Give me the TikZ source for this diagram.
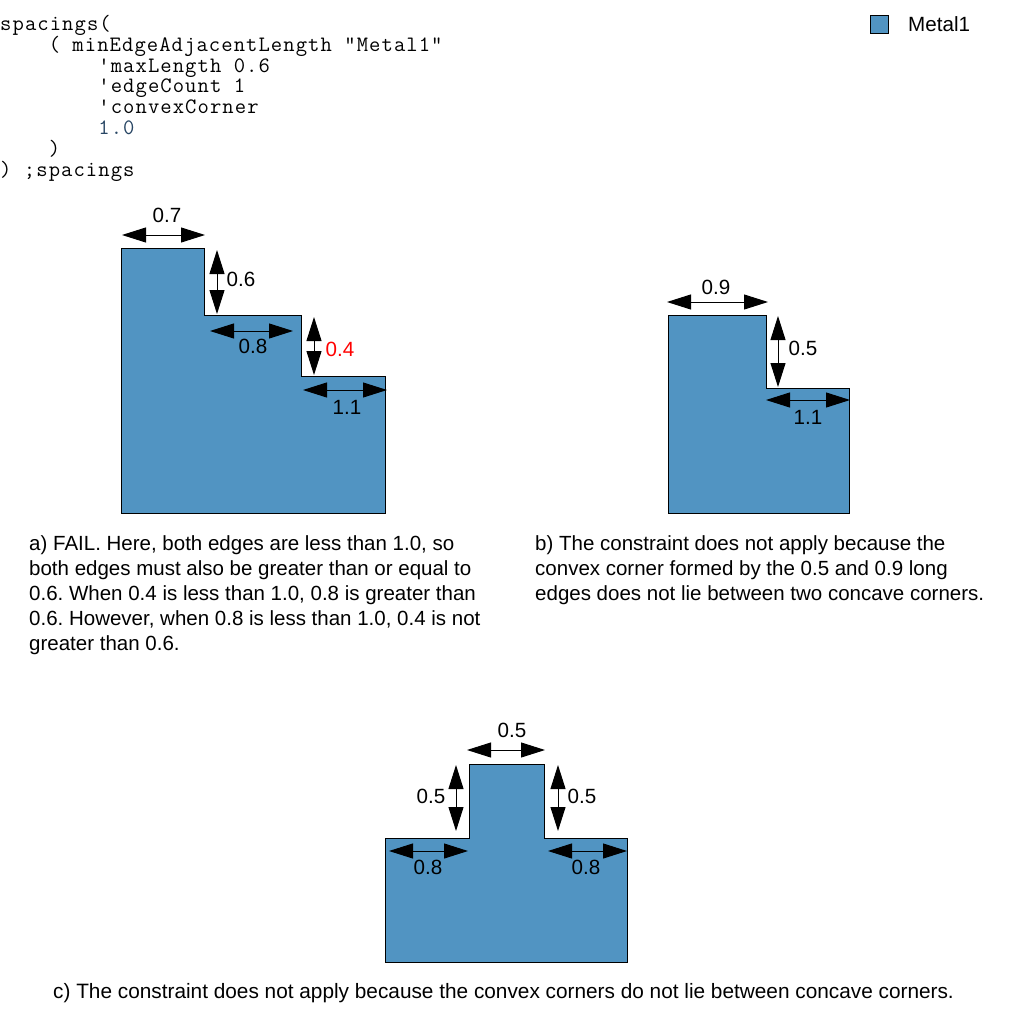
\documentclass[tikz,border=0pt]{standalone}
\usepackage{fontspec}
\setmainfont{Liberation Sans}
\newfontfamily\codefont[LetterSpace=4.9]{Latin Modern Mono}
\definecolor{metalblue}{RGB}{81, 148, 194}
\definecolor{codeblue}{RGB}{40, 70, 100}
\usetikzlibrary{arrows.meta}

\begin{document}
\frenchspacing
\begin{tikzpicture}[
  x=1pt, y=-1pt,
  metal/.style={draw=black, line width=0.9pt, fill=metalblue},
  dimline/.style={{Triangle[length=24pt,width=15pt]}-{Triangle[length=24pt,width=15pt]}, line width=1pt},
  dimtext/.style={font=\fontsize{20.6}{24}\selectfont, inner sep=0pt},
  codetext/.style={font=\codefont\fontsize{22}{20.8}\selectfont, align=left, anchor=north west, inner sep=0pt},
  captext/.style={font=\fontsize{20.5}{25}\selectfont, align=left, anchor=north west, inner sep=0pt}
]
  \useasboundingbox (0,0) rectangle (1013,1027);
  \fill[white] (0,0) rectangle (1013,1027);

  % code
  \node[codetext] (code) at (0,15) {spacings(\\
    \phantom{xxxx}( minEdgeAdjacentLength "Metal1"\\
    \phantom{xxxxxxxx}'maxLength 0.6\\
    \phantom{xxxxxxxx}'edgeCount 1\\
    \phantom{xxxxxxxx}'convexCorner\\
    \phantom{xxxxxxxx}\textcolor{codeblue}{1.0}\\
    \phantom{xxxx})\\
    ) ;spacings};

  % legend
  \node[metal, minimum size=18pt, inner sep=0pt] (swatch) at (879.5,24.5) {};
  \node[dimtext, anchor=west] (legend) at (908,24.5) {Metal1};

  % a)
  \draw[metal] (121,248) -- (204,248) -- (204,315) -- (301,315) -- (301,376) -- (385,376) -- (385,513) -- (121,513) -- cycle;
  \coordinate (a7l) at (122,235);
  \coordinate (a7r) at (205,235);
  \coordinate (a6t) at (217,250);
  \coordinate (a6b) at (217,314);
  \coordinate (a8l) at (210,331);
  \coordinate (a8r) at (293,331);
  \coordinate (a4t) at (314,317);
  \coordinate (a4b) at (314,375);
  \coordinate (a1l) at (303,390);
  \coordinate (a1r) at (387,390);
  \draw[dimline] (a7l) -- (a7r);
  \draw[dimline] (a6t) -- (a6b);
  \draw[dimline] (a8l) -- (a8r);
  \draw[dimline] (a4t) -- (a4b);
  \draw[dimline] (a1l) -- (a1r);
  \node[dimtext] (a7) at (167,215) {0.7};
  \node[dimtext] (a6) at (241,279) {0.6};
  \node[dimtext] (a8) at (253,346) {0.8};
  \node[dimtext, text=red] (a4) at (340,349) {0.4};
  \node[dimtext] (a1) at (347,407) {1.1};
  \node[captext] (capa) at (29,535) {a) FAIL. Here, both edges are less than 1.0, so\\
    both edges must also be greater than or equal to\\
    0.6. When 0.4 is less than 1.0, 0.8 is greater than\\
    0.6. However, when 0.8 is less than 1.0, 0.4 is not\\
    greater than 0.6.};

  % b)
  \draw[metal] (668,315) -- (766,315) -- (766,388) -- (849,388) -- (849,513) -- (668,513) -- cycle;
  \coordinate (b9l) at (667,302);
  \coordinate (b9r) at (768,302);
  \coordinate (b5t) at (778,316);
  \coordinate (b5b) at (778,387);
  \coordinate (b1l) at (766,400);
  \coordinate (b1r) at (850,400);
  \draw[dimline] (b9l) -- (b9r);
  \draw[dimline] (b5t) -- (b5b);
  \draw[dimline] (b1l) -- (b1r);
  \node[dimtext] (b9) at (716,287) {0.9};
  \node[dimtext] (b5) at (803,348) {0.5};
  \node[dimtext] (b1) at (808,417) {1.1};
  \node[captext] (capb) at (535,535) {b) The constraint does not apply because the\\
    convex corner formed by the 0.5 and 0.9 long\\
    edges does not lie between two concave corners.};

  % c)
  \draw[metal] (385,838) -- (469,838) -- (469,764) -- (544,764) -- (544,838) -- (627,838) -- (627,962) -- (385,962) -- cycle;
  \coordinate (c5l) at (467,750);
  \coordinate (c5r) at (545,750);
  \coordinate (c5at) at (456,765);
  \coordinate (c5ab) at (456,831);
  \coordinate (c5bt) at (558,765);
  \coordinate (c5bb) at (558,831);
  \coordinate (c8al) at (389,851);
  \coordinate (c8ar) at (468,851);
  \coordinate (c8bl) at (548,851);
  \coordinate (c8br) at (627,851);
  \draw[dimline] (c5l) -- (c5r);
  \draw[dimline] (c5at) -- (c5ab);
  \draw[dimline] (c5bt) -- (c5bb);
  \draw[dimline] (c8al) -- (c8ar);
  \draw[dimline] (c8bl) -- (c8br);
  \node[dimtext] (c5) at (512,730) {0.5};
  \node[dimtext] (c5a) at (431,796) {0.5};
  \node[dimtext] (c5b) at (582,796) {0.5};
  \node[dimtext] (c8a) at (428,867) {0.8};
  \node[dimtext] (c8b) at (586,867) {0.8};
  \node[captext, font=\fontsize{20.8}{25}\selectfont] (capc) at (53,983) {c) The constraint does not apply because the convex corners do not lie between concave corners.};
\end{tikzpicture}
\end{document}
